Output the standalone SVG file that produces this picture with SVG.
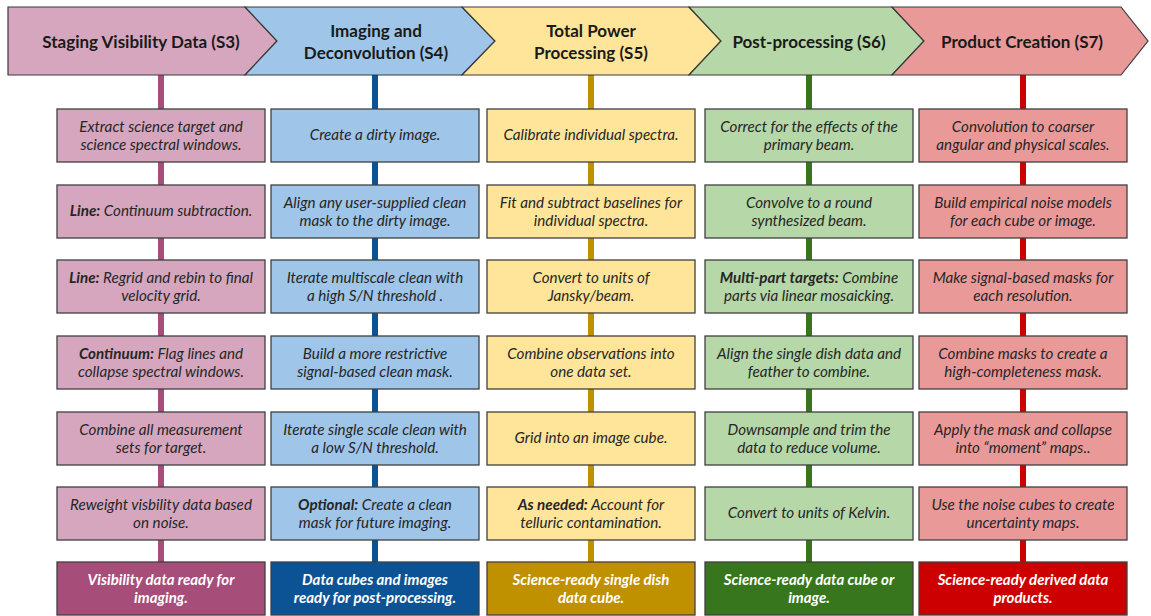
<svg xmlns="http://www.w3.org/2000/svg" width="1151" height="616" viewBox="0 0 1151 616">
<style>
.hd{stroke:#3a3a3a;stroke-width:1.2}
.ht{font-family:Lato,"Open Sans","Liberation Sans",sans-serif;font-weight:bold;font-size:17px;fill:#1a1a1a;text-anchor:middle}
.bx{stroke:#404040;stroke-width:1.3}
.t{font-family:Lato,"Open Sans","Liberation Sans",sans-serif;font-style:italic;font-size:15.2px;fill:#262626;text-anchor:middle}
.b{font-weight:bold}
.w{font-family:Lato,"Open Sans","Liberation Sans",sans-serif;font-style:italic;font-weight:bold;font-size:15px;fill:#ffffff;text-anchor:middle}
.ln{stroke-width:6;fill:none}
.p1{fill:#d5a6bd}.p2{fill:#9fc5e8}.p3{fill:#ffe599}.p4{fill:#b6d7a8}.p5{fill:#ea9999}
.d1{fill:#a64d79}.d2{fill:#0b5394}.d3{fill:#bf9000}.d4{fill:#38761d}.d5{fill:#cc0000}
</style>
<rect width="1151" height="616" fill="#ffffff"/>
<g id="connectors">
<line class="ln" x1="161" y1="75" x2="161" y2="563" stroke="#a64d79"/>
<line class="ln" x1="375" y1="75" x2="375" y2="563" stroke="#0b5394"/>
<line class="ln" x1="591" y1="75" x2="591" y2="563" stroke="#bf9000"/>
<line class="ln" x1="809" y1="75" x2="809" y2="563" stroke="#38761d"/>
<line class="ln" x1="1023" y1="75" x2="1023" y2="563" stroke="#cc0000"/>
</g>
<g id="h1"><polygon class="hd p1" points="8,7 245,7 277,41 245,75 8,75"/><text class="ht" x="141" y="48">Staging Visibility Data (S3)</text></g>
<g id="h2"><polygon class="hd p2" points="245,7 462,7 495,41 462,75 245,75 277,41"/><text class="ht" x="376" y="37">Imaging and</text><text class="ht" x="376" y="59">Deconvolution (S4)</text></g>
<g id="h3"><polygon class="hd p3" points="462,7 689,7 721,41 689,75 462,75 495,41"/><text class="ht" x="591" y="37">Total Power</text><text class="ht" x="591" y="59">Processing (S5)</text></g>
<g id="h4"><polygon class="hd p4" points="689,7 892,7 924,41 892,75 689,75 721,41"/><text class="ht" x="809" y="48">Post-processing (S6)</text></g>
<g id="h5"><polygon class="hd p5" points="892,7 1121,7 1148,41 1121,75 892,75 924,41"/><text class="ht" x="1022" y="48">Product Creation (S7)</text></g>

<!-- Column 1 -->
<g id="c1r1"><rect class="bx p1" x="57" y="109" width="208" height="53"/><text class="t" x="161" y="132">Extract science target and</text><text class="t" x="161" y="150">science spectral windows.</text></g>
<g id="c1r2"><rect class="bx p1" x="57" y="185" width="208" height="53"/><text class="t" x="161" y="216"><tspan class="b">Line:</tspan> Continuum subtraction.</text></g>
<g id="c1r3"><rect class="bx p1" x="57" y="260" width="208" height="53"/><text class="t" x="161" y="283"><tspan class="b">Line:</tspan> Regrid and rebin to final</text><text class="t" x="161" y="301">velocity grid.</text></g>
<g id="c1r4"><rect class="bx p1" x="57" y="336" width="208" height="53"/><text class="t" x="161" y="359"><tspan class="b">Continuum:</tspan> Flag lines and</text><text class="t" x="161" y="377">collapse spectral windows.</text></g>
<g id="c1r5"><rect class="bx p1" x="57" y="412" width="208" height="53"/><text class="t" x="161" y="435">Combine all measurement</text><text class="t" x="161" y="453">sets for target.</text></g>
<g id="c1r6"><rect class="bx p1" x="57" y="487" width="208" height="53"/><text class="t" x="161" y="510">Reweight visbility data based</text><text class="t" x="161" y="528">on noise.</text></g>
<g id="c1out"><rect class="bx d1" x="57" y="562" width="208" height="53"/><text class="w" x="161" y="585">Visibility data ready for</text><text class="w" x="161" y="603">imaging.</text></g>

<!-- Column 2 -->
<g id="c2r1"><rect class="bx p2" x="271" y="109" width="208" height="53"/><text class="t" x="375" y="140">Create a dirty image.</text></g>
<g id="c2r2"><rect class="bx p2" x="271" y="185" width="208" height="53"/><text class="t" x="375" y="208">Align any user-supplied clean</text><text class="t" x="375" y="226">mask to the dirty image.</text></g>
<g id="c2r3"><rect class="bx p2" x="271" y="260" width="208" height="53"/><text class="t" x="375" y="283">Iterate multiscale clean with</text><text class="t" x="375" y="301">a high S/N threshold .</text></g>
<g id="c2r4"><rect class="bx p2" x="271" y="336" width="208" height="53"/><text class="t" x="375" y="359">Build a more restrictive</text><text class="t" x="375" y="377">signal-based clean mask.</text></g>
<g id="c2r5"><rect class="bx p2" x="271" y="412" width="208" height="53"/><text class="t" x="375" y="435">Iterate single scale clean with</text><text class="t" x="375" y="453">a low S/N threshold.</text></g>
<g id="c2r6"><rect class="bx p2" x="271" y="487" width="208" height="53"/><text class="t" x="375" y="510"><tspan class="b">Optional:</tspan> Create a clean</text><text class="t" x="375" y="528">mask for future imaging.</text></g>
<g id="c2out"><rect class="bx d2" x="271" y="562" width="208" height="53"/><text class="w" x="375" y="585">Data cubes and images</text><text class="w" x="375" y="603">ready for post-processing.</text></g>

<!-- Column 3 -->
<g id="c3r1"><rect class="bx p3" x="487" y="109" width="208" height="53"/><text class="t" x="591" y="140">Calibrate individual spectra.</text></g>
<g id="c3r2"><rect class="bx p3" x="487" y="185" width="208" height="53"/><text class="t" x="591" y="208">Fit and subtract baselines for</text><text class="t" x="591" y="226">individual spectra.</text></g>
<g id="c3r3"><rect class="bx p3" x="487" y="260" width="208" height="53"/><text class="t" x="591" y="283">Convert to units of</text><text class="t" x="591" y="301">Jansky/beam.</text></g>
<g id="c3r4"><rect class="bx p3" x="487" y="336" width="208" height="53"/><text class="t" x="591" y="359">Combine observations into</text><text class="t" x="591" y="377">one data set.</text></g>
<g id="c3r5"><rect class="bx p3" x="487" y="412" width="208" height="53"/><text class="t" x="591" y="443">Grid into an image cube.</text></g>
<g id="c3r6"><rect class="bx p3" x="487" y="487" width="208" height="53"/><text class="t" x="591" y="510"><tspan class="b">As needed:</tspan> Account for</text><text class="t" x="591" y="528">telluric contamination.</text></g>
<g id="c3out"><rect class="bx d3" x="487" y="562" width="208" height="53"/><text class="w" x="591" y="585">Science-ready single dish</text><text class="w" x="591" y="603">data cube.</text></g>

<!-- Column 4 -->
<g id="c4r1"><rect class="bx p4" x="705" y="109" width="208" height="53"/><text class="t" x="809" y="132">Correct for the effects of the</text><text class="t" x="809" y="150">primary beam.</text></g>
<g id="c4r2"><rect class="bx p4" x="705" y="185" width="208" height="53"/><text class="t" x="809" y="208">Convolve to a round</text><text class="t" x="809" y="226">synthesized beam.</text></g>
<g id="c4r3"><rect class="bx p4" x="705" y="260" width="208" height="53"/><text class="t" x="809" y="283"><tspan class="b">Multi-part targets:</tspan> Combine</text><text class="t" x="809" y="301">parts via linear mosaicking.</text></g>
<g id="c4r4"><rect class="bx p4" x="705" y="336" width="208" height="53"/><text class="t" x="809" y="359">Align the single dish data and</text><text class="t" x="809" y="377">feather to combine.</text></g>
<g id="c4r5"><rect class="bx p4" x="705" y="412" width="208" height="53"/><text class="t" x="809" y="435">Downsample and trim the</text><text class="t" x="809" y="453">data to reduce volume.</text></g>
<g id="c4r6"><rect class="bx p4" x="705" y="487" width="208" height="53"/><text class="t" x="809" y="518">Convert to units of Kelvin.</text></g>
<g id="c4out"><rect class="bx d4" x="705" y="562" width="208" height="53"/><text class="w" x="809" y="585">Science-ready data cube or</text><text class="w" x="809" y="603">image.</text></g>

<!-- Column 5 -->
<g id="c5r1"><rect class="bx p5" x="919" y="109" width="208" height="53"/><text class="t" x="1023" y="132">Convolution to coarser</text><text class="t" x="1023" y="150">angular and physical scales.</text></g>
<g id="c5r2"><rect class="bx p5" x="919" y="185" width="208" height="53"/><text class="t" x="1023" y="208">Build empirical noise models</text><text class="t" x="1023" y="226">for each cube or image.</text></g>
<g id="c5r3"><rect class="bx p5" x="919" y="260" width="208" height="53"/><text class="t" x="1023" y="283">Make signal-based masks for</text><text class="t" x="1023" y="301">each resolution.</text></g>
<g id="c5r4"><rect class="bx p5" x="919" y="336" width="208" height="53"/><text class="t" x="1023" y="359">Combine masks to create a</text><text class="t" x="1023" y="377">high-completeness mask.</text></g>
<g id="c5r5"><rect class="bx p5" x="919" y="412" width="208" height="53"/><text class="t" x="1023" y="435">Apply the mask and collapse</text><text class="t" x="1023" y="453">into “moment” maps..</text></g>
<g id="c5r6"><rect class="bx p5" x="919" y="487" width="208" height="53"/><text class="t" x="1023" y="510">Use the noise cubes to create</text><text class="t" x="1023" y="528">uncertainty maps.</text></g>
<g id="c5out"><rect class="bx d5" x="919" y="562" width="208" height="53"/><text class="w" x="1023" y="585">Science-ready derived data</text><text class="w" x="1023" y="603">products.</text></g>
</svg>
